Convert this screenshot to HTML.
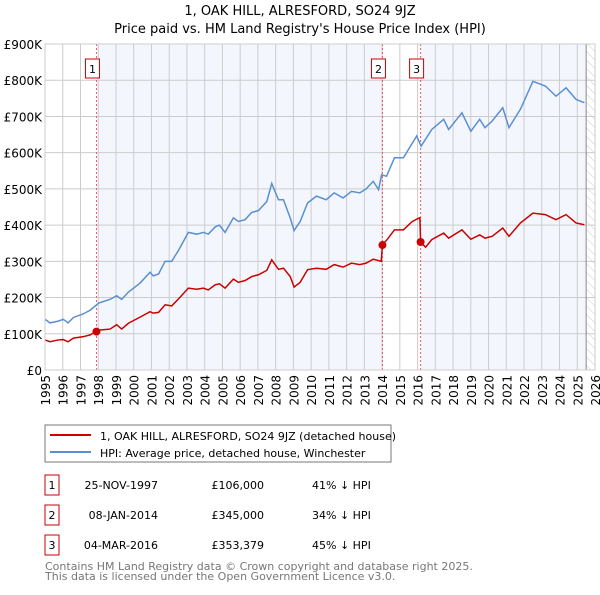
<!DOCTYPE html>
<html><head><meta charset="utf-8"><style>
body{margin:0;background:#fff;font-family:"Liberation Sans","DejaVu Sans",sans-serif;}
svg text{font-family:"DejaVu Sans","Liberation Sans",sans-serif;}
</style></head><body>
<svg id="c" width="600" height="590" xmlns="http://www.w3.org/2000/svg">
<defs><pattern id="hatch" width="6" height="6" patternUnits="userSpaceOnUse" patternTransform="rotate(-45)"><line x1="0" y1="0" x2="0" y2="6" stroke="#ccc" stroke-width="1"/></pattern></defs>
<text x="300" y="15" text-anchor="middle" font-size="13">1, OAK HILL, ALRESFORD, SO24 9JZ</text>
<text x="300" y="33" text-anchor="middle" font-size="13">Price paid vs. HM Land Registry's House Price Index (HPI)</text>
<g id="plot"></g>
<rect x="45" y="425" width="346" height="37" fill="#fff" stroke="#777"/>
<line x1="50" y1="435" x2="91" y2="435" stroke="#cc0000" stroke-width="2"/>
<text x="100" y="440" font-size="11">1, OAK HILL, ALRESFORD, SO24 9JZ (detached house)</text>
<line x1="50" y1="452" x2="91" y2="452" stroke="#5b8fd0" stroke-width="2"/>
<text x="100" y="457" font-size="11">HPI: Average price, detached house, Winchester</text>
<g id="table" font-size="11"></g>
<text x="45" y="570" font-size="11" fill="#777">Contains HM Land Registry data © Crown copyright and database right 2025.</text>
<text x="45" y="580" font-size="11" fill="#777">This data is licensed under the Open Government Licence v3.0.</text>
</svg>
<script>
const yTicks=[0,100,200,300,400,500,600,700,800,900];
const years=[1995,1996,1997,1998,1999,2000,2001,2002,2003,2004,2005,2006,2007,2008,2009,2010,2011,2012,2013,2014,2015,2016,2017,2018,2019,2020,2021,2022,2023,2024,2025,2026];
const hpiT=[1995,1995.28,1995.75,1996.03,1996.3,1996.6,1997.16,1997.54,1998.03,1998.67,1999.04,1999.32,1999.7,2000.36,2000.92,2001.1,2001.4,2001.77,2002.14,2002.52,2003.08,2003.55,2003.93,2004.2,2004.59,2004.83,2005.15,2005.62,2005.9,2006.28,2006.65,2007.03,2007.5,2007.78,2008.16,2008.44,2008.82,2009.04,2009.38,2009.8,2010.3,2010.85,2011.3,2011.8,2012.27,2012.74,2013.1,2013.5,2013.8,2013.97,2014.25,2014.7,2015.2,2015.95,2016.2,2016.8,2017.47,2017.75,2018.5,2019.0,2019.5,2019.8,2020.2,2020.8,2021.15,2021.8,2022.5,2023.2,2023.8,2024.37,2024.93,2025.4];
const hpiV=[140,130,135,140,130,145,155,165,185,195,205,195,215,240,270,260,265,300,300,330,380,375,380,375,395,400,380,420,410,415,435,440,465,515,470,470,420,385,410,461,480,470,489,475,493,489,500,521,498,539,535,586,586,646,618,664,692,664,710,659,692,669,687,724,669,720,797,784,756,779,747,738];
const ppT=[1995,1995.28,1995.75,1996.03,1996.3,1996.6,1997.16,1997.54,1997.87,1998.03,1998.67,1999.04,1999.32,1999.7,2000.36,2000.92,2001.1,2001.4,2001.77,2002.14,2002.52,2003.08,2003.55,2003.93,2004.2,2004.59,2004.83,2005.15,2005.62,2005.9,2006.28,2006.65,2007.03,2007.5,2007.78,2008.16,2008.44,2008.82,2009.04,2009.38,2009.8,2010.3,2010.85,2011.3,2011.8,2012.27,2012.74,2013.1,2013.5,2013.95,2014.02,2014.25,2014.7,2015.2,2015.7,2016.1,2016.13,2016.17,2016.45,2016.8,2017.47,2017.75,2018.5,2019.0,2019.5,2019.8,2020.2,2020.8,2021.15,2021.8,2022.5,2023.2,2023.8,2024.37,2024.93,2025.4];
const ppV=[83,78,83,84,78,88,92,97,106,110,113,125,113,129,146,161,157,159,180,177,196,226,223,226,221,235,238,226,251,242,247,258,263,275,304,278,281,258,229,242,277,281,278,291,284,295,291,295,306,300,346,358,387,387,410,420,420,353,339,360,378,364,387,361,373,364,369,392,369,406,433,429,415,429,406,401];
const saleT=[1997.9,2014.02,2016.17];
const saleV=[106,345,353.379];
const saleLabels=["1","2","3"];
const saleDates=["25-NOV-1997","08-JAN-2014","04-MAR-2016"];
const salePrices=["£106,000","£345,000","£353,379"];
const saleHpi=["41% ↓ HPI","34% ↓ HPI","45% ↓ HPI"];
const x0=45,x1=595,y0=370,y1=44,dataEnd=2025.5;
const X=t=>x0+(t-1995)/(2026-1995)*(x1-x0);
const Y=v=>y0-v/900*(y0-y1);
const NS="http://www.w3.org/2000/svg";
const g=document.getElementById('plot');
function mk(tag,attrs,parent){const e=document.createElementNS(NS,tag);for(const k in attrs)e.setAttribute(k,attrs[k]);(parent||g).appendChild(e);return e;}
let e;
e=mk('rect',{x:X(saleT[0]),y:y1,width:X(saleT[1])-X(saleT[0]),height:y0-y1,fill:'#eef3fc',opacity:0.7});


e=mk('rect',{x:X(saleT[2]),y:y1,width:X(dataEnd)-X(saleT[2]),height:y0-y1,fill:'#eef3fc',opacity:0.7});


e=mk('rect',{x:X(dataEnd),y:y1,width:x1-X(dataEnd),height:y0-y1,fill:'url(#hatch)'});


yTicks.forEach(v=>{
 e=mk('line',{x1:x0,x2:x1,y1:Y(v),y2:Y(v),stroke:'#ccc'});
 
 
 e=mk('text',{x:x0-3,y:Y(v)+5,'text-anchor':'end','font-size':12});
 e.textContent=v===0?'£0':'£'+v+'K';
 
 
});
years.forEach(yr=>{
 e=mk('line',{x1:X(yr),x2:X(yr),y1:y1,y2:y0,stroke:'#ccc'});
 
 
 e=mk('text',{transform:`translate(${X(yr)+5},${y0+5}) rotate(-90)`,'text-anchor':'end','font-size':12});
 e.textContent=yr;
 
 
});
e=mk('line',{x1:X(dataEnd),x2:X(dataEnd),y1:y1,y2:y0,stroke:'#888'});


saleT.forEach((t,i)=>{
 e=mk('line',{x1:X(t),x2:X(t),y1:y1,y2:y0,stroke:'#e06060','stroke-dasharray':'2,2'});
 
 
});
e=mk('polyline',{points:hpiT.map((t,i)=>X(t)+','+Y(hpiV[i])).join(' '),fill:'none',stroke:'#5b8fd0','stroke-width':1.5});


e=mk('polyline',{points:ppT.map((t,i)=>X(t)+','+Y(ppV[i])).join(' '),fill:'none',stroke:'#cc0000','stroke-width':1.5});


saleT.forEach((t,i)=>{
 e=mk('circle',{cx:X(t),cy:Y(saleV[i]),r:4,fill:'#cc0000'});
 
 
 const bx=X(t)-4;
 e=mk('rect',{x:bx-7,y:59,width:14,height:19,fill:'#fff',stroke:'#cc0000'});
 
 
 e=mk('text',{x:bx,y:73,'text-anchor':'middle','font-size':11});
 e.textContent=saleLabels[i];
 
 
});
e=mk('rect',{x:x0,y:y1,width:x1-x0,height:y0-y1,fill:'none',stroke:'#ccc'});


const tb=document.getElementById('table');
saleLabels.forEach((l,i)=>{
 const yy=475+i*30;
 e=mk('rect',{x:45,y:yy,width:14,height:20,fill:'#fff',stroke:'#cc0000'},tb);
 
 
 e=mk('text',{x:52,y:yy+14,'text-anchor':'middle'},tb);e.textContent=l;
 
 
 e=mk('text',{x:158,y:yy+14,'text-anchor':'end'},tb);e.textContent=saleDates[i];
 
 
 e=mk('text',{x:264,y:yy+14,'text-anchor':'end'},tb);e.textContent=salePrices[i];
 
 
 e=mk('text',{x:312,y:yy+14},tb);e.textContent=saleHpi[i];
 
 
});
</script>
</body></html>
